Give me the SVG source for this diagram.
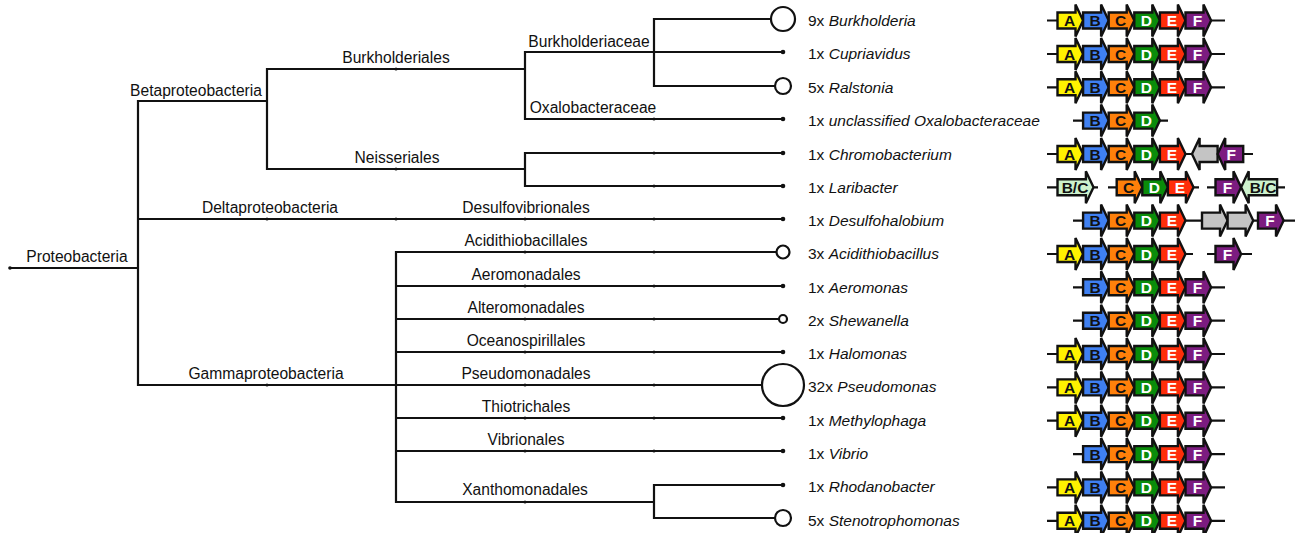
<svg xmlns="http://www.w3.org/2000/svg" xmlns:xlink="http://www.w3.org/1999/xlink" width="1295" height="533" viewBox="0 0 1295 533">
<style>
.ln{stroke:#111;stroke-width:2.2;fill:none;stroke-linecap:square}
.tk{fill:#111}
.ring{fill:#fff;stroke:#111;stroke-width:2.2}
.cl{font-family:"Liberation Sans",Arial,sans-serif;font-size:15.6px;fill:#111;text-anchor:middle}
.lf{font-family:"Liberation Sans",Arial,sans-serif;font-size:15.5px;fill:#111}
.it{font-style:italic}
.bb{stroke:#111;stroke-width:2.2;fill:none}
.g{stroke:#111;stroke-width:2.4;stroke-linejoin:miter}
.A{fill:#FFF200}.B{fill:#3F80F2}.C{fill:#FF800A}.D{fill:#0A8C0A}.E{fill:#FF2E0A}.F{fill:#7C1C80}.G{fill:#C4C4C4}.BC{fill:#CDF2CD}
.gl{font-family:"Liberation Sans",Arial,sans-serif;font-size:15.5px;font-weight:bold;text-anchor:middle}
.dk{fill:#111}.wt{fill:#fff}
</style>
<defs>
<path id="fwd" d="M0,-8 H18 V-16 L25.6,0 L18,16 V8 H0 Z"/>
<path id="rev" d="M25.6,-8 H7.6 V-16 L0,0 L7.6,16 V8 H25.6 Z"/>
<path id="fwdw" d="M0,-8 H28.4 V-16 L36,0 L28.4,16 V8 H0 Z"/>
<path id="revw" d="M36,-8 H7.6 V-16 L0,0 L7.6,16 V8 H36 Z"/>
</defs>

<g id="connectors">
<path class="ln" d="M10,268 H138 M138,101 V385 M138,101 H267 M267,69 V169 M267,69 H525 M267,169 H525 M525,52 V119 M525,52 H783 M654,19 V86 M654,19 H771 M654,86 H775 M525,119 H783 M525,153 V186 M525,153 H783 M525,186 H783 M138,219 H783 M138,385 H396 M396,252 V502 M396,252 H776 M396,286 H783 M396,319 H779 M396,352 H783 M396,385 H762 M396,418 H783 M396,451 H783 M396,502 H654 M654,485 V518 M654,485 H783 M654,518 H775"/>
<g class="tk">
<circle cx="10" cy="268" r="1.8"/>
<circle cx="396" cy="69" r="1.5"/><circle cx="396" cy="169" r="1.5"/>
<circle cx="654" cy="119" r="1.5"/><circle cx="654" cy="153" r="1.5"/><circle cx="654" cy="186" r="1.5"/>
<circle cx="267" cy="219" r="1.5"/><circle cx="396" cy="219" r="1.5"/><circle cx="525" cy="219" r="1.5"/><circle cx="654" cy="219" r="1.5"/>
<circle cx="267" cy="385" r="1.5"/>
<circle cx="525" cy="252" r="1.5"/><circle cx="654" cy="252" r="1.5"/>
<circle cx="525" cy="286" r="1.5"/><circle cx="654" cy="286" r="1.5"/>
<circle cx="525" cy="319" r="1.5"/><circle cx="654" cy="319" r="1.5"/>
<circle cx="525" cy="352" r="1.5"/><circle cx="654" cy="352" r="1.5"/>
<circle cx="525" cy="385" r="1.5"/><circle cx="654" cy="385" r="1.5"/>
<circle cx="525" cy="418" r="1.5"/><circle cx="654" cy="418" r="1.5"/>
<circle cx="525" cy="451" r="1.5"/><circle cx="654" cy="451" r="1.5"/>
<circle cx="525" cy="502" r="1.5"/>
<circle cx="783" cy="52" r="2.3"/><circle cx="783" cy="119" r="2.3"/><circle cx="783" cy="153" r="2.3"/><circle cx="783" cy="186" r="2.3"/><circle cx="783" cy="219" r="2.3"/><circle cx="783" cy="286" r="2.3"/><circle cx="783" cy="352" r="2.3"/><circle cx="783" cy="418" r="2.3"/><circle cx="783" cy="451" r="2.3"/><circle cx="783" cy="485" r="2.3"/>
</g>
</g>

<g id="clades">
<text class="cl" x="77" y="262">Proteobacteria</text>
<text class="cl" x="196" y="96">Betaproteobacteria</text>
<text class="cl" x="270" y="213">Deltaproteobacteria</text>
<text class="cl" x="266" y="379">Gammaproteobacteria</text>
<text class="cl" x="396" y="63">Burkholderiales</text>
<text class="cl" x="397" y="163">Neisseriales</text>
<text class="cl" x="589" y="47">Burkholderiaceae</text>
<text class="cl" x="593" y="113">Oxalobacteraceae</text>
<text class="cl" x="526" y="213">Desulfovibrionales</text>
<text class="cl" x="526" y="246">Acidithiobacillales</text>
<text class="cl" x="526" y="280">Aeromonadales</text>
<text class="cl" x="526" y="313">Alteromonadales</text>
<text class="cl" x="526" y="346">Oceanospirillales</text>
<text class="cl" x="526" y="379">Pseudomonadales</text>
<text class="cl" x="526" y="412">Thiotrichales</text>
<text class="cl" x="526" y="445">Vibrionales</text>
<text class="cl" x="525" y="495">Xanthomonadales</text>
</g>

<g id="leaf-burkholderia">
<circle class="ring" cx="783" cy="19" r="12"/>
<text class="lf" x="808" y="26">9x <tspan class="it">Burkholderia</tspan></text>
<g transform="translate(0,20.5)">
<line class="bb" x1="1047" y1="0" x2="1225" y2="0"/>
<use href="#fwd" x="1057.5" class="g A"/><use href="#fwd" x="1083.1" class="g B"/><use href="#fwd" x="1108.7" class="g C"/><use href="#fwd" x="1134.3" class="g D"/><use href="#fwd" x="1159.9" class="g E"/><use href="#fwd" x="1185.5" class="g F"/>
<text class="gl dk" x="1069.5" y="5.5">A</text><text class="gl dk" x="1095.1" y="5.5">B</text><text class="gl dk" x="1120.7" y="5.5">C</text><text class="gl wt" x="1146.3" y="5.5">D</text><text class="gl wt" x="1171.9" y="5.5">E</text><text class="gl wt" x="1197.5" y="5.5">F</text>
</g>
</g>

<g id="leaf-cupriavidus">
<text class="lf" x="808" y="59">1x <tspan class="it">Cupriavidus</tspan></text>
<g transform="translate(0,54)">
<line class="bb" x1="1047" y1="0" x2="1225" y2="0"/>
<use href="#fwd" x="1057.5" class="g A"/><use href="#fwd" x="1083.1" class="g B"/><use href="#fwd" x="1108.7" class="g C"/><use href="#fwd" x="1134.3" class="g D"/><use href="#fwd" x="1159.9" class="g E"/><use href="#fwd" x="1185.5" class="g F"/>
<text class="gl dk" x="1069.5" y="5.5">A</text><text class="gl dk" x="1095.1" y="5.5">B</text><text class="gl dk" x="1120.7" y="5.5">C</text><text class="gl wt" x="1146.3" y="5.5">D</text><text class="gl wt" x="1171.9" y="5.5">E</text><text class="gl wt" x="1197.5" y="5.5">F</text>
</g>
</g>

<g id="leaf-ralstonia">
<circle class="ring" cx="783" cy="86" r="8"/>
<text class="lf" x="808" y="93">5x <tspan class="it">Ralstonia</tspan></text>
<g transform="translate(0,87.3)">
<line class="bb" x1="1047" y1="0" x2="1225" y2="0"/>
<use href="#fwd" x="1057.5" class="g A"/><use href="#fwd" x="1083.1" class="g B"/><use href="#fwd" x="1108.7" class="g C"/><use href="#fwd" x="1134.3" class="g D"/><use href="#fwd" x="1159.9" class="g E"/><use href="#fwd" x="1185.5" class="g F"/>
<text class="gl dk" x="1069.5" y="5.5">A</text><text class="gl dk" x="1095.1" y="5.5">B</text><text class="gl dk" x="1120.7" y="5.5">C</text><text class="gl wt" x="1146.3" y="5.5">D</text><text class="gl wt" x="1171.9" y="5.5">E</text><text class="gl wt" x="1197.5" y="5.5">F</text>
</g>
</g>

<g id="leaf-oxalobacteraceae">
<text class="lf" x="808" y="126">1x <tspan class="it">unclassified Oxalobacteraceae</tspan></text>
<g transform="translate(0,120.6)">
<line class="bb" x1="1073" y1="0" x2="1168" y2="0"/>
<use href="#fwd" x="1083.1" class="g B"/><use href="#fwd" x="1108.7" class="g C"/><use href="#fwd" x="1134.3" class="g D"/>
<text class="gl dk" x="1095.1" y="5.5">B</text><text class="gl dk" x="1120.7" y="5.5">C</text><text class="gl wt" x="1146.3" y="5.5">D</text>
</g>
</g>

<g id="leaf-chromobacterium">
<text class="lf" x="808" y="160">1x <tspan class="it">Chromobacterium</tspan></text>
<g transform="translate(0,154)">
<line class="bb" x1="1047" y1="0" x2="1253" y2="0"/>
<use href="#fwd" x="1057.5" class="g A"/><use href="#fwd" x="1083.1" class="g B"/><use href="#fwd" x="1108.7" class="g C"/><use href="#fwd" x="1134.3" class="g D"/><use href="#fwd" x="1159.9" class="g E"/>
<use href="#rev" x="1192" class="g G"/><use href="#rev" x="1217.6" class="g F"/>
<text class="gl dk" x="1069.5" y="5.5">A</text><text class="gl dk" x="1095.1" y="5.5">B</text><text class="gl dk" x="1120.7" y="5.5">C</text><text class="gl wt" x="1146.3" y="5.5">D</text><text class="gl wt" x="1171.9" y="5.5">E</text><text class="gl wt" x="1231.2" y="5.5">F</text>
</g>
</g>

<g id="leaf-laribacter">
<text class="lf" x="808" y="193">1x <tspan class="it">Laribacter</tspan></text>
<g transform="translate(0,187.3)">
<line class="bb" x1="1047" y1="0" x2="1098" y2="0"/>
<line class="bb" x1="1108" y1="0" x2="1199" y2="0"/>
<line class="bb" x1="1207" y1="0" x2="1285" y2="0"/>
<use href="#fwdw" x="1057.5" class="g BC"/>
<use href="#fwd" x="1116.7" class="g C"/><use href="#fwd" x="1142.3" class="g D"/><use href="#fwd" x="1167.9" class="g E"/>
<use href="#fwd" x="1215.5" class="g F"/><use href="#revw" x="1241.1" class="g BC"/>
<text class="gl dk" x="1075" y="5.5">B/C</text>
<text class="gl dk" x="1128.7" y="5.5">C</text><text class="gl wt" x="1154.3" y="5.5">D</text><text class="gl wt" x="1179.9" y="5.5">E</text>
<text class="gl wt" x="1227.5" y="5.5">F</text><text class="gl dk" x="1263" y="5.5">B/C</text>
</g>
</g>

<g id="leaf-desulfohalobium">
<text class="lf" x="808" y="226">1x <tspan class="it">Desulfohalobium</tspan></text>
<g transform="translate(0,220.6)">
<line class="bb" x1="1073" y1="0" x2="1295" y2="0"/>
<use href="#fwd" x="1083.1" class="g B"/><use href="#fwd" x="1108.7" class="g C"/><use href="#fwd" x="1134.3" class="g D"/><use href="#fwd" x="1159.9" class="g E"/>
<use href="#fwd" x="1202" class="g G"/><use href="#fwd" x="1227.6" class="g G"/><use href="#fwd" x="1258" class="g F"/>
<text class="gl dk" x="1095.1" y="5.5">B</text><text class="gl dk" x="1120.7" y="5.5">C</text><text class="gl wt" x="1146.3" y="5.5">D</text><text class="gl wt" x="1171.9" y="5.5">E</text><text class="gl wt" x="1270" y="5.5">F</text>
</g>
</g>

<g id="leaf-acidithiobacillus">
<circle class="ring" cx="783" cy="252" r="6.5"/>
<text class="lf" x="808" y="259">3x <tspan class="it">Acidithiobacillus</tspan></text>
<g transform="translate(0,254)">
<line class="bb" x1="1047" y1="0" x2="1193" y2="0"/>
<line class="bb" x1="1207" y1="0" x2="1252" y2="0"/>
<use href="#fwd" x="1057.5" class="g A"/><use href="#fwd" x="1083.1" class="g B"/><use href="#fwd" x="1108.7" class="g C"/><use href="#fwd" x="1134.3" class="g D"/><use href="#fwd" x="1159.9" class="g E"/>
<use href="#fwd" x="1215.5" class="g F"/>
<text class="gl dk" x="1069.5" y="5.5">A</text><text class="gl dk" x="1095.1" y="5.5">B</text><text class="gl dk" x="1120.7" y="5.5">C</text><text class="gl wt" x="1146.3" y="5.5">D</text><text class="gl wt" x="1171.9" y="5.5">E</text><text class="gl wt" x="1227.5" y="5.5">F</text>
</g>
</g>

<g id="leaf-aeromonas">
<text class="lf" x="808" y="293">1x <tspan class="it">Aeromonas</tspan></text>
<g transform="translate(0,287.3)">
<line class="bb" x1="1073" y1="0" x2="1225" y2="0"/>
<use href="#fwd" x="1083.1" class="g B"/><use href="#fwd" x="1108.7" class="g C"/><use href="#fwd" x="1134.3" class="g D"/><use href="#fwd" x="1159.9" class="g E"/><use href="#fwd" x="1185.5" class="g F"/>
<text class="gl dk" x="1095.1" y="5.5">B</text><text class="gl dk" x="1120.7" y="5.5">C</text><text class="gl wt" x="1146.3" y="5.5">D</text><text class="gl wt" x="1171.9" y="5.5">E</text><text class="gl wt" x="1197.5" y="5.5">F</text>
</g>
</g>

<g id="leaf-shewanella">
<circle class="ring" cx="783" cy="319" r="4"/>
<text class="lf" x="808" y="326">2x <tspan class="it">Shewanella</tspan></text>
<g transform="translate(0,320.7)">
<line class="bb" x1="1073" y1="0" x2="1225" y2="0"/>
<use href="#fwd" x="1083.1" class="g B"/><use href="#fwd" x="1108.7" class="g C"/><use href="#fwd" x="1134.3" class="g D"/><use href="#fwd" x="1159.9" class="g E"/><use href="#fwd" x="1185.5" class="g F"/>
<text class="gl dk" x="1095.1" y="5.5">B</text><text class="gl dk" x="1120.7" y="5.5">C</text><text class="gl wt" x="1146.3" y="5.5">D</text><text class="gl wt" x="1171.9" y="5.5">E</text><text class="gl wt" x="1197.5" y="5.5">F</text>
</g>
</g>

<g id="leaf-halomonas">
<text class="lf" x="808" y="359">1x <tspan class="it">Halomonas</tspan></text>
<g transform="translate(0,354)">
<line class="bb" x1="1047" y1="0" x2="1225" y2="0"/>
<use href="#fwd" x="1057.5" class="g A"/><use href="#fwd" x="1083.1" class="g B"/><use href="#fwd" x="1108.7" class="g C"/><use href="#fwd" x="1134.3" class="g D"/><use href="#fwd" x="1159.9" class="g E"/><use href="#fwd" x="1185.5" class="g F"/>
<text class="gl dk" x="1069.5" y="5.5">A</text><text class="gl dk" x="1095.1" y="5.5">B</text><text class="gl dk" x="1120.7" y="5.5">C</text><text class="gl wt" x="1146.3" y="5.5">D</text><text class="gl wt" x="1171.9" y="5.5">E</text><text class="gl wt" x="1197.5" y="5.5">F</text>
</g>
</g>

<g id="leaf-pseudomonas">
<circle class="ring" cx="783" cy="385" r="21"/>
<text class="lf" x="808" y="392">32x <tspan class="it">Pseudomonas</tspan></text>
<g transform="translate(0,387.4)">
<line class="bb" x1="1047" y1="0" x2="1225" y2="0"/>
<use href="#fwd" x="1057.5" class="g A"/><use href="#fwd" x="1083.1" class="g B"/><use href="#fwd" x="1108.7" class="g C"/><use href="#fwd" x="1134.3" class="g D"/><use href="#fwd" x="1159.9" class="g E"/><use href="#fwd" x="1185.5" class="g F"/>
<text class="gl dk" x="1069.5" y="5.5">A</text><text class="gl dk" x="1095.1" y="5.5">B</text><text class="gl dk" x="1120.7" y="5.5">C</text><text class="gl wt" x="1146.3" y="5.5">D</text><text class="gl wt" x="1171.9" y="5.5">E</text><text class="gl wt" x="1197.5" y="5.5">F</text>
</g>
</g>

<g id="leaf-methylophaga">
<text class="lf" x="808" y="426">1x <tspan class="it">Methylophaga</tspan></text>
<g transform="translate(0,420.7)">
<line class="bb" x1="1047" y1="0" x2="1225" y2="0"/>
<use href="#fwd" x="1057.5" class="g A"/><use href="#fwd" x="1083.1" class="g B"/><use href="#fwd" x="1108.7" class="g C"/><use href="#fwd" x="1134.3" class="g D"/><use href="#fwd" x="1159.9" class="g E"/><use href="#fwd" x="1185.5" class="g F"/>
<text class="gl dk" x="1069.5" y="5.5">A</text><text class="gl dk" x="1095.1" y="5.5">B</text><text class="gl dk" x="1120.7" y="5.5">C</text><text class="gl wt" x="1146.3" y="5.5">D</text><text class="gl wt" x="1171.9" y="5.5">E</text><text class="gl wt" x="1197.5" y="5.5">F</text>
</g>
</g>

<g id="leaf-vibrio">
<text class="lf" x="808" y="459">1x <tspan class="it">Vibrio</tspan></text>
<g transform="translate(0,454.1)">
<line class="bb" x1="1073" y1="0" x2="1225" y2="0"/>
<use href="#fwd" x="1083.1" class="g B"/><use href="#fwd" x="1108.7" class="g C"/><use href="#fwd" x="1134.3" class="g D"/><use href="#fwd" x="1159.9" class="g E"/><use href="#fwd" x="1185.5" class="g F"/>
<text class="gl dk" x="1095.1" y="5.5">B</text><text class="gl dk" x="1120.7" y="5.5">C</text><text class="gl wt" x="1146.3" y="5.5">D</text><text class="gl wt" x="1171.9" y="5.5">E</text><text class="gl wt" x="1197.5" y="5.5">F</text>
</g>
</g>

<g id="leaf-rhodanobacter">
<text class="lf" x="808" y="492">1x <tspan class="it">Rhodanobacter</tspan></text>
<g transform="translate(0,487.4)">
<line class="bb" x1="1047" y1="0" x2="1225" y2="0"/>
<use href="#fwd" x="1057.5" class="g A"/><use href="#fwd" x="1083.1" class="g B"/><use href="#fwd" x="1108.7" class="g C"/><use href="#fwd" x="1134.3" class="g D"/><use href="#fwd" x="1159.9" class="g E"/><use href="#fwd" x="1185.5" class="g F"/>
<text class="gl dk" x="1069.5" y="5.5">A</text><text class="gl dk" x="1095.1" y="5.5">B</text><text class="gl dk" x="1120.7" y="5.5">C</text><text class="gl wt" x="1146.3" y="5.5">D</text><text class="gl wt" x="1171.9" y="5.5">E</text><text class="gl wt" x="1197.5" y="5.5">F</text>
</g>
</g>

<g id="leaf-stenotrophomonas">
<circle class="ring" cx="783" cy="518" r="8"/>
<text class="lf" x="808" y="526">5x <tspan class="it">Stenotrophomonas</tspan></text>
<g transform="translate(0,520.8)">
<line class="bb" x1="1047" y1="0" x2="1225" y2="0"/>
<use href="#fwd" x="1057.5" class="g A"/><use href="#fwd" x="1083.1" class="g B"/><use href="#fwd" x="1108.7" class="g C"/><use href="#fwd" x="1134.3" class="g D"/><use href="#fwd" x="1159.9" class="g E"/><use href="#fwd" x="1185.5" class="g F"/>
<text class="gl dk" x="1069.5" y="5.5">A</text><text class="gl dk" x="1095.1" y="5.5">B</text><text class="gl dk" x="1120.7" y="5.5">C</text><text class="gl wt" x="1146.3" y="5.5">D</text><text class="gl wt" x="1171.9" y="5.5">E</text><text class="gl wt" x="1197.5" y="5.5">F</text>
</g>
</g>
</svg>
